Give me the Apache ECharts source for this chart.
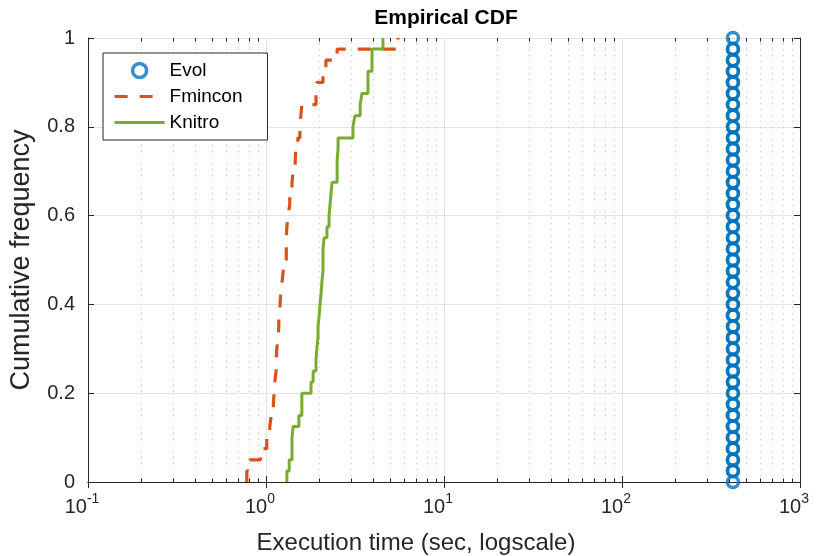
<html>
<head>
<meta charset="utf-8">
<script src="https://cdnjs.cloudflare.com/ajax/libs/echarts/6.0.0/echarts.min.js"></script>
<style>
  html, body { margin: 0; padding: 0; background: #fff; }
  #container { width: 820px; height: 556px; }
</style>
</head>
<body>
<div id="container"></div>
<script type="text/javascript">
// sorted execution times (sec), 40 runs per solver
var evolTimes = [420, 420, 420, 420, 420, 420, 420, 420, 420, 420,
                 420, 420, 420, 420, 420, 420, 420, 420, 420, 420,
                 420, 420, 420, 420, 420, 420, 420, 420, 420, 420,
                 420, 420, 420, 420, 420, 420, 420, 420, 420, 420];
var fminconTimes = [0.78, 0.81, 0.93, 1.01, 1.05, 1.07, 1.10, 1.11, 1.12, 1.14,
                    1.14, 1.15, 1.17, 1.18, 1.18, 1.20, 1.21, 1.23, 1.25, 1.26,
                    1.30, 1.30, 1.31, 1.33, 1.36, 1.36, 1.40, 1.42, 1.46, 1.47,
                    1.51, 1.55, 1.57, 1.59, 1.91, 1.93, 2.09, 2.17, 2.51, 5.52];
var knitroTimes = [1.31, 1.35, 1.40, 1.40, 1.42, 1.53, 1.59, 1.59, 1.79, 1.84,
                   1.91, 1.93, 1.96, 1.96, 1.99, 2.01, 2.04, 2.06, 2.09, 2.09,
                   2.09, 2.12, 2.20, 2.26, 2.29, 2.32, 2.35, 2.51, 2.51, 2.54,
                   2.54, 3.08, 3.16, 3.38, 3.46, 3.74, 3.74, 3.94, 3.94, 4.54];

var seriesNames = ['Evol', 'Fmincon', 'Knitro'];
var decades = [0.1, 1, 10, 100];
var minorSteps = [2, 3, 4, 5, 6, 7, 8, 9];

// stairs vertices of the empirical cdf, like matlab's ecdf plot
function stairs(times) {
    var n = times.length;
    var pts = [];
    for (var i = 0; i < n; i++) {
        pts.push([times[i], i / n]);
        pts.push([times[i], (i + 1) / n]);
    }
    return pts;
}

var minorX = [];
decades.forEach(function (d) {
    minorSteps.forEach(function (m) { minorX.push(+(d * m).toPrecision(3)); });
});

// minor grid (dotted) and minor ticks on bottom/top
var minorLines = [];
minorX.forEach(function (v) {
    minorLines.push({ xAxis: v, lineStyle: { type: [1, 5], color: '#c4c4c4', width: 1 } });
    minorLines.push([{ coord: [v, 0] }, { coord: [v, 0.008] }]);
    minorLines.push([{ coord: [v, 1] }, { coord: [v, 0.992] }]);
});

var axisColor = '#262626';
var font = 'Liberation Sans, Arial, Helvetica, sans-serif';
var clear = 'rgba(255,255,255,0)';

var dom = document.getElementById('container');
var myChart = echarts.init(dom, null, { renderer: 'canvas' });

var option = {
    backgroundColor: '#fff',
    animation: false,
    title: {
        text: 'Empirical CDF',
        left: 441,
        top: 3,
        textAlign: 'center',
        textStyle: { fontFamily: font, fontSize: 21, fontWeight: 'bold', color: '#000' }
    },
    legend: {
        orient: 'vertical',
        left: 103,
        top: 53,
        padding: [8, 25, 8, 10],
        itemWidth: 50,
        itemHeight: 14,
        itemGap: 7,
        backgroundColor: '#fff',
        borderColor: axisColor,
        borderWidth: 1,
        textStyle: { fontFamily: font, fontSize: 19, color: '#000' },
        data: [
            { name: 'Evol', itemStyle: { color: clear, borderColor: '#0072BD', borderWidth: 3.5 } },
            { name: 'Fmincon', itemStyle: { opacity: 0 }, lineStyle: { width: 3.2 } },
            { name: 'Knitro', itemStyle: { opacity: 0 }, lineStyle: { width: 3 } }
        ]
    },
    grid: { left: 88, right: 20, top: 38, bottom: 74, containLabel: false, outerBoundsMode: 'none' },
    xAxis: [{
        type: 'log',
        logBase: 10,
        min: 0.1,
        max: 1000,
        name: 'Execution time (sec, logscale)',
        nameLocation: 'middle',
        nameGap: 49,
        nameTextStyle: { fontFamily: font, fontSize: 24, color: axisColor, padding: [0, 56, 0, 0] },
        axisLine: { lineStyle: { color: axisColor, width: 1 } },
        axisTick: { inside: true, length: 6, lineStyle: { color: axisColor } },
        splitLine: { show: true, lineStyle: { color: '#e3e3e3', width: 1 } },
        minorTick: { show: false },
        axisLabel: {
            margin: 10,
            padding: [0, 12, 0, 0],
            formatter: function (v) {
                var e = Math.round(Math.log(v) / Math.LN10);
                return '{b|10}{e|' + e + '}';
            },
            rich: {
                b: { fontFamily: font, fontSize: 20, color: axisColor, lineHeight: 30 },
                e: { fontFamily: font, fontSize: 14, color: axisColor, lineHeight: 14, verticalAlign: 'top' }
            }
        }
    }, {
        type: 'log',
        logBase: 10,
        min: 0.1,
        max: 1000,
        position: 'top',
        axisLine: { lineStyle: { color: axisColor, width: 1 } },
        axisTick: { inside: true, length: 6, lineStyle: { color: axisColor } },
        axisLabel: { show: false },
        splitLine: { show: false }
    }],
    yAxis: [{
        type: 'value',
        min: 0,
        max: 1,
        interval: 0.2,
        name: 'Cumulative frequency',
        nameLocation: 'middle',
        nameGap: 53,
        nameTextStyle: { fontFamily: font, fontSize: 27, color: axisColor, padding: [0, 0, 0, 0] },
        axisLine: { show: true, lineStyle: { color: axisColor, width: 1 } },
        axisTick: { show: true, inside: true, length: 6, lineStyle: { color: axisColor } },
        splitLine: { show: true, lineStyle: { color: '#e3e3e3', width: 1 } },
        axisLabel: { margin: 13, fontFamily: font, fontSize: 20, color: axisColor }
    }, {
        type: 'value',
        min: 0,
        max: 1,
        interval: 0.2,
        position: 'right',
        axisLine: { show: true, lineStyle: { color: axisColor, width: 1 } },
        axisTick: { show: true, inside: true, length: 6, lineStyle: { color: axisColor } },
        axisLabel: { show: false },
        splitLine: { show: false }
    }],
    series: [
        {
            name: seriesNames[0],
            type: 'scatter',
            xAxisIndex: 0,
            yAxisIndex: 0,
            symbol: 'circle',
            symbolSize: 11,
            itemStyle: { color: clear, borderColor: '#0072BD', borderWidth: 3.5 },
            data: stairs(evolTimes),
            z: 3,
            markLine: {
                silent: true,
                symbol: ['none', 'none'],
                label: { show: false },
                animation: false,
                lineStyle: { type: 'solid', color: axisColor, width: 1 },
                data: minorLines,
                z: 1
            }
        },
        {
            name: seriesNames[1],
            type: 'line',
            xAxisIndex: 0,
            yAxisIndex: 0,
            symbol: 'none',
            lineStyle: { color: '#D95319', width: 3.2, type: [13, 12] },
            itemStyle: { color: '#D95319' },
            data: stairs(fminconTimes),
            z: 4
        },
        {
            name: seriesNames[2],
            type: 'line',
            xAxisIndex: 0,
            yAxisIndex: 0,
            symbol: 'none',
            lineStyle: { color: '#77AC30', width: 3 },
            itemStyle: { color: '#77AC30' },
            data: stairs(knitroTimes),
            z: 5
        }
    ]
};

myChart.setOption(option);
window.addEventListener('resize', myChart.resize);
</script>
</body>
</html>
